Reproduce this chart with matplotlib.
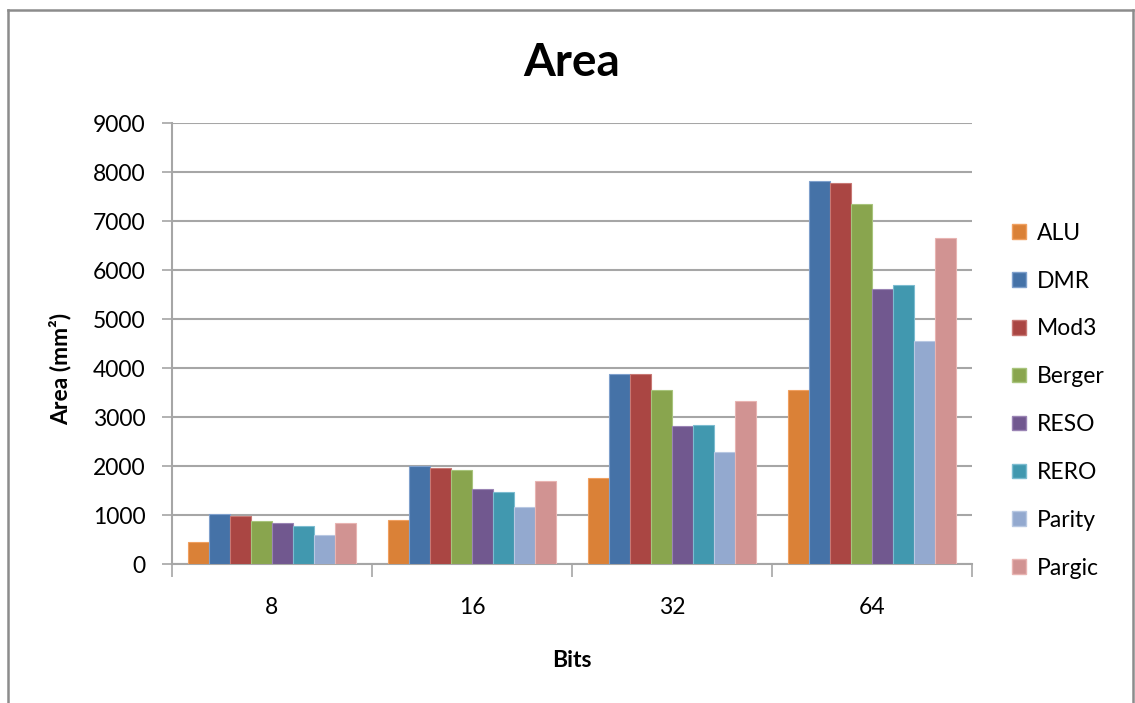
import numpy as np
import matplotlib.pyplot as plt
from matplotlib.lines import Line2D
from matplotlib.patches import Patch

plt.rcParams['font.family'] = ['Lato', 'DejaVu Sans']

# Area per design, by word width
bits = ['8', '16', '32', '64']
designs = ['ALU', 'DMR', 'Mod3', 'Berger', 'RESO', 'RERO', 'Parity', 'Pargic']
alu = [455, 905, 1760, 3545]
dmr = [1030, 2005, 3885, 7810]
mod3 = [990, 1960, 3885, 7775]
berger = [870, 1925, 3545, 7340]
reso = [845, 1535, 2810, 5615]
rero = [770, 1460, 2845, 5690]
parity = [585, 1165, 2290, 4560]
pargic = [845, 1690, 3335, 6650]
colors = ['#DA8137', '#4572A7', '#AA4643', '#89A54E',
          '#71588F', '#4198AF', '#93A9CF', '#D19392']
edges = ['#F0A060', '#7FA0CC', '#C87874', '#A8C47C',
         '#9A84B4', '#7CBCD0', '#B8C8E2', '#E8B4B2']

series = [alu, dmr, mod3, berger, reso, rero, parity, pargic]

fig = plt.figure(figsize=(11.35, 7.03), dpi=100)
ax = fig.add_axes([0.1515, 0.1977, 0.7048, 0.6273])

x = np.arange(len(bits))
w = 0.105
for i, vals in enumerate(series):
    ax.bar(x + (i - 3.5) * w, vals, w, color=colors[i],
           edgecolor=edges[i], linewidth=0.8, zorder=3)

ax.set_xlim(-0.5, len(bits) - 0.5)
ax.set_ylim(0, 9000)
ax.set_yticks(np.arange(0, 9001, 1000))
ax.yaxis.grid(True, color='#A6A6A6', linewidth=1.5, zorder=0)
ax.set_xticks(x)
ax.set_xticklabels(bits)
ax.set_xticks(np.arange(-0.5, len(bits), 1), minor=True)
ax.tick_params(axis='x', which='major', length=0, pad=24, labelsize=16.5)
ax.tick_params(axis='x', which='minor', length=9, width=1.2, color='#A6A6A6')
ax.tick_params(axis='y', length=7, width=1.2, color='#A6A6A6', pad=12,
               labelsize=16.5)
for s in ['top', 'right']:
    ax.spines[s].set_visible(False)
for s in ['left', 'bottom']:
    ax.spines[s].set_color('#A6A6A6')
    ax.spines[s].set_linewidth(1.5)

fig.text(0.504, 0.911, 'Area', ha='center', va='center',
         fontsize=33, fontweight='bold')
fig.text(0.504, 0.061, 'Bits', ha='center', va='center',
         fontsize=16.5, fontweight='bold')
fig.text(0.053, 0.475, 'Area (mm²)', ha='center', va='center',
         rotation=90, fontsize=16.5, fontweight='bold')

handles = [Patch(facecolor=colors[i], edgecolor=edges[i], label=designs[i])
           for i in range(len(designs))]
fig.legend(handles=handles, loc='upper left', bbox_to_anchor=(0.892, 0.683),
           frameon=False, fontsize=16.5, handlelength=0.6, handleheight=0.6,
           handletextpad=0.45, labelspacing=1.17, borderpad=0, borderaxespad=0)

# outer chart frame (open at the bottom)
frame = dict(color='#8C8C8C', linewidth=1.8, transform=fig.transFigure)
fig.add_artist(Line2D([8 / 1135, 1133 / 1135], [1 - 10 / 703] * 2, **frame))
fig.add_artist(Line2D([8 / 1135] * 2, [0, 1 - 10 / 703], **frame))
fig.add_artist(Line2D([1133 / 1135] * 2, [0, 1 - 10 / 703], **frame))

fig.savefig('out.png', dpi=100)
